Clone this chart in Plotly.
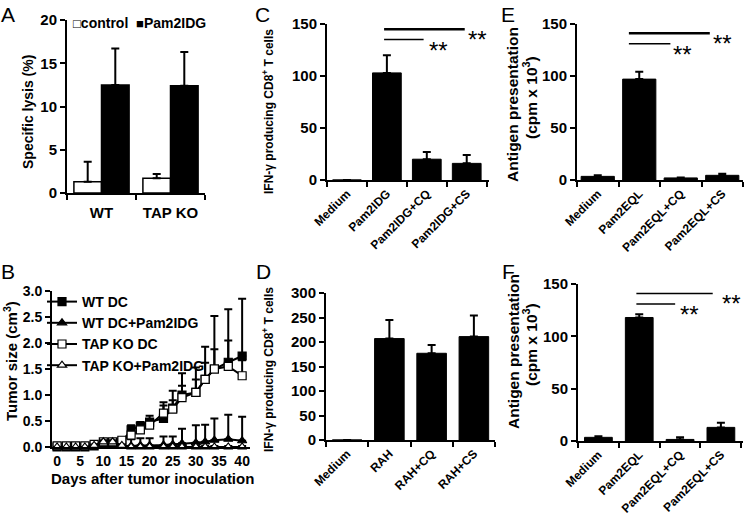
import plotly.graph_objects as go

W, H = 747, 517
FONT = "Liberation Sans"

# ---------------- data ----------------
# Panel A
a_groups = ["WT", "TAP KO"]
a_control = [1.3, 1.7]
a_control_err = [2.3, 0.5]
a_pam = [12.5, 12.4]
a_pam_err = [4.2, 3.9]

# Panel B
b_days = [0, 2, 4, 6, 8, 10, 12, 14, 16, 18, 20, 23, 25, 27, 30, 32, 34, 37, 40]
b_wt_dc = [0.0, 0.0, 0.0, 0.0, 0.02, 0.05, 0.08, 0.1, 0.33, 0.4, 0.48, 0.55, 0.75, 1.0, 1.05, 1.3, 1.5, 1.63, 1.75]
b_wt_dc_err = [0.0, 0.0, 0.0, 0.0, 0.02, 0.03, 0.04, 0.05, 0.09, 0.08, 0.12, 0.31, 0.33, 0.42, 0.48, 0.63, 1.02, 1.02, 1.1]
b_wt_pam = [0.0, 0.0, 0.0, 0.0, 0.02, 0.03, 0.03, 0.02, 0.02, 0.03, 0.03, 0.04, 0.05, 0.07, 0.08, 0.1, 0.13, 0.15, 0.12]
b_wt_pam_err = [0.0, 0.0, 0.0, 0.0, 0.02, 0.03, 0.03, 0.05, 0.13, 0.14, 0.14, 0.16, 0.15, 0.28, 0.34, 0.33, 0.42, 0.47, 0.46]
b_tap_dc = [0.02, 0.02, 0.02, 0.02, 0.05, 0.1, 0.1, 0.13, 0.23, 0.33, 0.42, 0.65, 0.73, 0.95, 1.05, 1.3, 1.5, 1.55, 1.37]
b_tap_dc_err = [0.0, 0.0, 0.0, 0.0, 0.02, 0.03, 0.04, 0.04, 0.06, 0.07, 0.08, 0.15, 0.17, 0.23, 0.25, 0.32, 0.38, 0.5, 0.3]
b_tap_pam = [0.0, 0.0, 0.0, 0.0, 0.03, 0.1, 0.1, 0.03, 0.0, 0.0, 0.0, 0.0, 0.0, 0.0, 0.0, 0.0, 0.0, 0.0, 0.0]
b_tap_pam_err = [0.0, 0.0, 0.0, 0.0, 0.02, 0.03, 0.03, 0.02, 0.02, 0.02, 0.02, 0.02, 0.02, 0.02, 0.02, 0.02, 0.02, 0.02, 0.02]

# Panel C
c_cats = ["Medium", "Pam2IDG", "Pam2IDG+CQ", "Pam2IDG+CS"]
c_vals = [0, 103, 20, 16]
c_err = [0, 17, 7, 8]
c_sig = [("Pam2IDG", "Pam2IDG+CQ", 135), ("Pam2IDG", "Pam2IDG+CS", 145)]

# Panel D
d_cats = ["Medium", "RAH", "RAH+CQ", "RAH+CS"]
d_vals = [0, 207, 177, 211]
d_err = [0, 38, 17, 43]

# Panel E
e_cats = ["Medium", "Pam2EQL", "Pam2EQL+CQ", "Pam2EQL+CS"]
e_vals = [3.5, 97, 2, 4.5]
e_err = [1.0, 7, 0.5, 1.5]
e_sig = [("Pam2EQL", "Pam2EQL+CQ", 131), ("Pam2EQL", "Pam2EQL+CS", 141)]

# Panel F
f_cats = ["Medium", "Pam2EQL", "Pam2EQL+CQ", "Pam2EQL+CS"]
f_vals = [3.5, 118, 1.5, 13]
f_err = [1.0, 3, 2, 4.5]
f_sig = [("Pam2EQL", "Pam2EQL+CQ", 131), ("Pam2EQL", "Pam2EQL+CS", 141)]

# ---------------- helpers ----------------
def xd(a, b):
    return [a / W, b / W]

def yd(top, bottom):
    return [1 - bottom / H, 1 - top / H]

BOLD = dict(family=FONT, color="black", weight="bold")

def err(arr):
    return dict(type="data", symmetric=False, array=arr, arrayminus=[0] * len(arr),
                color="black", thickness=2, width=4)

fig = go.Figure()

# Panel A
fig.add_trace(go.Bar(x=a_groups, y=a_control, name="control", marker=dict(color="white", line=dict(color="black", width=1.5)),
                     error_y=err(a_control_err), xaxis="x", yaxis="y", showlegend=False))
fig.add_trace(go.Bar(x=a_groups, y=a_pam, name="Pam2IDG", marker=dict(color="black", line=dict(color="black", width=1.5)),
                     error_y=err(a_pam_err), xaxis="x", yaxis="y", showlegend=False))

# Panel B
b_series = [
    ("WT DC", b_wt_dc, b_wt_dc_err, "square", "black", 8),
    ("WT DC+Pam2IDG", b_wt_pam, b_wt_pam_err, "triangle-up", "black", 8),
    ("TAP KO DC", b_tap_dc, b_tap_dc_err, "square", "white", 8),
    ("TAP KO+Pam2IDG", b_tap_pam, b_tap_pam_err, "triangle-up", "white", 8),
]
for name, vals, e, sym, col, sz in b_series:
    fig.add_trace(go.Scatter(x=b_days, y=vals, name=name, mode="lines+markers",
                             line=dict(color="black", width=2),
                             marker=dict(symbol=sym, color=col, size=sz, line=dict(color="black", width=1.2)),
                             error_y=err(e), cliponaxis=False, xaxis="x2", yaxis="y2"))

# Panels C-F
for cats, vals, e, ax, w in [(c_cats, c_vals, c_err, "3", 0.72), (d_cats, d_vals, d_err, "4", 0.7),
                             (e_cats, e_vals, e_err, "5", 0.8), (f_cats, f_vals, f_err, "6", 0.68)]:
    fig.add_trace(go.Bar(x=cats, y=vals, width=w, marker=dict(color="black", line=dict(color="black", width=1)),
                         error_y=err(e), showlegend=False, xaxis="x" + ax, yaxis="y" + ax))

axis_common = dict(showline=True, linecolor="black", linewidth=2, ticks="outside", ticklen=5,
                   tickwidth=2, tickcolor="black", showgrid=False, zeroline=False, fixedrange=True,
                   automargin=False)

cat_axis = dict(axis_common, tickson="boundaries", tickangle=-45, tickfont=dict(BOLD, size=12))

layout = dict(
    width=W, height=H, margin=dict(l=0, r=0, t=0, b=0, autoexpand=False),
    paper_bgcolor="white", plot_bgcolor="white",
    barmode="group", bargap=0.2, bargroupgap=0,
    font=dict(family=FONT, color="black"),
    xaxis=dict(axis_common, domain=xd(67, 205), anchor="y", tickson="boundaries", tickfont=dict(BOLD, size=15),
               ticklabelstandoff=5),
    yaxis=dict(axis_common, domain=yd(20, 193), anchor="x", range=[0, 20], tickvals=[0, 5, 10, 15, 20], tickfont=dict(BOLD, size=15)),
    xaxis2=dict(axis_common, domain=xd(52, 250), anchor="y2", range=[-1.1, 41.7], tickvals=[0, 5, 10, 15, 20, 25, 30, 35, 40],
                tickfont=dict(BOLD, size=14), ticks=""),
    yaxis2=dict(axis_common, domain=yd(291, 447), anchor="x2", range=[0, 3], tickvals=[0, 0.5, 1, 1.5, 2, 2.5, 3],
                tickformat=".1f", tickfont=dict(BOLD, size=14)),
    xaxis3=dict(cat_axis, domain=xd(327, 489), anchor="y3"),
    yaxis3=dict(axis_common, domain=yd(24, 180), anchor="x3", range=[0, 150], tickvals=[0, 50, 100, 150], tickfont=dict(BOLD, size=15)),
    xaxis4=dict(cat_axis, domain=xd(326, 495), anchor="y4"),
    yaxis4=dict(axis_common, domain=yd(293, 440), anchor="x4", range=[0, 300], tickvals=[0, 50, 100, 150, 200, 250, 300], tickfont=dict(BOLD, size=15)),
    xaxis5=dict(cat_axis, domain=xd(577, 743), anchor="y5"),
    yaxis5=dict(axis_common, domain=yd(24, 180), anchor="x5", range=[0, 150], tickvals=[0, 50, 100, 150], tickfont=dict(BOLD, size=15)),
    xaxis6=dict(cat_axis, domain=xd(578, 743), anchor="y6"),
    yaxis6=dict(axis_common, domain=yd(284, 441), anchor="x6", range=[0, 150], tickvals=[0, 50, 100, 150], tickfont=dict(BOLD, size=15)),
    legend=dict(x=42 / W, y=1 - 286 / H, xanchor="left", yanchor="top", font=dict(BOLD, size=14),
                bgcolor="rgba(0,0,0,0)", tracegroupgap=0, itemwidth=30),
)
fig.update_layout(**layout)

annotations = []
shapes = []

# legend of panel A (text swatches)
annotations.append(dict(text="<span style='font-size:13px'>□</span>control  <span style='font-size:13px'>■</span>Pam2IDG",
                        x=71 / W, y=1 - 23 / H, xref="paper", yref="paper", showarrow=False,
                        font=dict(BOLD, size=14), xanchor="left", yanchor="middle"))

# panel letters
for letter, x, y in [("A", 8, 14), ("B", 8, 271), ("C", 262, 14), ("D", 263, 271), ("E", 508, 14), ("F", 508, 271)]:
    annotations.append(dict(text=letter, x=x / W, y=1 - y / H, xref="paper", yref="paper", showarrow=False,
                            font=dict(family=FONT, size=21, color="black"), xanchor="center", yanchor="middle"))

# axis titles
def ytitle(text, x, y, size):
    annotations.append(dict(text=text, x=x / W, y=1 - y / H, xref="paper", yref="paper", showarrow=False,
                            textangle=-90, font=dict(BOLD, size=size), xanchor="center", yanchor="middle"))

ytitle("Specific lysis (%)", 28, 112, 14)
ytitle("Tumor size (cm<sup>3</sup>)", 10, 361, 15)
ytitle("IFN-γ producing CD8<sup>+</sup> T cells", 268, 112, 12)
ytitle("IFN-γ producing CD8<sup>+</sup> T cells", 268, 370, 12)
ytitle("Antigen presentation", 513, 105, 15.5)
ytitle("(cpm x 10<sup>3</sup>)", 530, 98, 15.5)
ytitle("Antigen presentation", 513, 352, 15.5)
ytitle("(cpm x 10<sup>3</sup>)", 530, 345, 15.5)
annotations.append(dict(text="Days after tumor inoculation", x=152 / W, y=1 - 478 / H, xref="paper", yref="paper",
                        showarrow=False, font=dict(BOLD, size=15), xanchor="center", yanchor="middle"))

# significance brackets: (line start offset, line end offset, star offset, line width) per bracket
def sig(cats, pairs, ax, styles):
    for (a, b, level), (o0, o1, so, lw) in zip(pairs, styles):
        i0, i1 = cats.index(a), cats.index(b)
        shapes.append(dict(type="line", xref="x" + ax, yref="y" + ax, x0=i0 + o0, x1=i1 + o1,
                           y0=level, y1=level, line=dict(color="black", width=lw)))
        annotations.append(dict(text="**", xref="x" + ax, yref="y" + ax, x=i1 + so, y=level,
                                showarrow=False, font=dict(family=FONT, size=24, color="black"),
                                xanchor="center", yanchor="top", yshift=5))

sig(c_cats, c_sig, "3", [(-0.07, -0.08, 0.3, 1.5), (-0.07, -0.05, 0.27, 2.5)])
sig(e_cats, e_sig, "5", [(-0.25, -0.25, 0.05, 1.5), (-0.25, -0.3, 0.0, 2.5)])
sig(f_cats, f_sig, "6", [(-0.07, -0.12, 0.22, 1.5), (-0.07, -0.2, 0.26, 1.5)])

fig.update_layout(annotations=annotations, shapes=shapes)
fig.write_html("out.html", config={"displayModeBar": False},
               post_script="document.body.style.margin='0px';document.body.style.overflow='hidden';")
